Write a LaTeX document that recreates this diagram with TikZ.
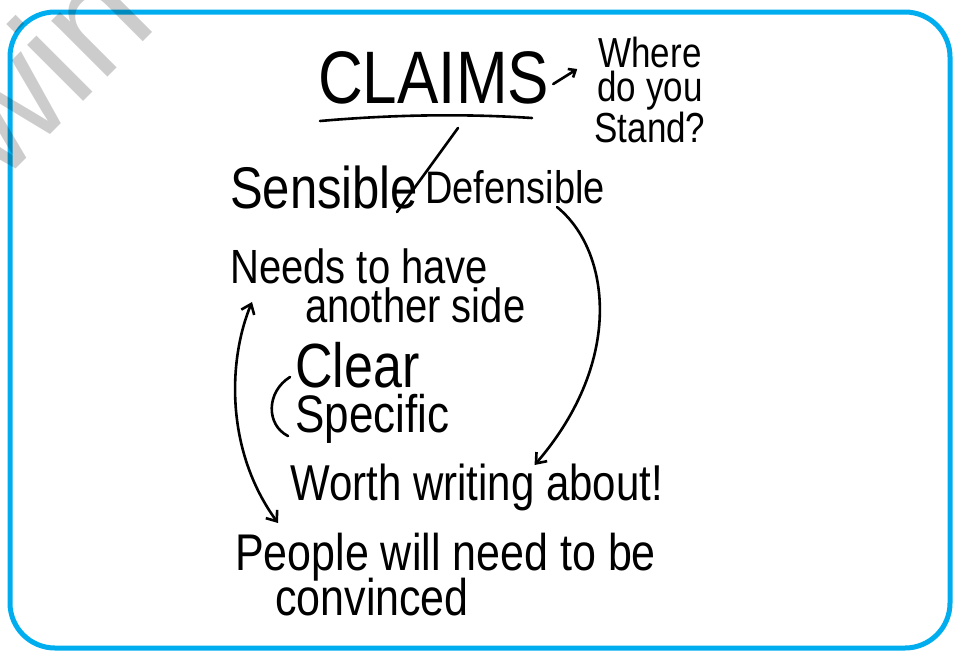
\documentclass[tikz,border=0pt]{standalone}
\usepackage{fontspec}
\setmainfont{Liberation Sans}
\usetikzlibrary{arrows.meta}
\definecolor{frame}{RGB}{0,174,239}
\newcommand{\hand}[1]{\fontsize{#1}{#1}\selectfont}
\begin{document}
\begin{tikzpicture}[x=1pt,y=-1pt,
  txt/.style={inner sep=0pt,anchor=base west,yscale=1.2},
  ink/.style={line width=2.6pt,line cap=round},
  barb/.tip={Straight Barb[length=9pt,width=14pt]},
  arr/.style={ink,-barb}]
\useasboundingbox (0,0) rectangle (955,651);
\draw[line width=5pt,frame,rounded corners=45pt] (10,12) rectangle (950,648);
\node[txt,font=\hand{62}] (claims) at (318,103) {CLAIMS};
\node[txt,anchor=north,align=center,font=\fontsize{35}{28.5}\selectfont] (stand) at (650,37) {Where\\do you\\Stand?};
\node[txt,font=\hand{49}] (sens) at (230,208) {Sensible};
\node[txt,anchor=base east,font=\hand{38}] (def) at (605,203) {Defensible};
\node[txt,font=\hand{40}] (needs) at (230,283) {Needs to have};
\node[txt,font=\hand{40}] (side) at (305,322) {another side};
\node[txt,font=\hand{52}] (clear) at (295,387) {Clear};
\node[txt,font=\hand{44}] (spec) at (295,432) {Specific};
\node[txt,font=\hand{42}] (worth) at (290,500) {Worth writing about!};
\node[txt,font=\hand{43}] (people) at (235,570) {People will need to be};
\node[txt,font=\hand{43}] (conv) at (275,615) {convinced};
% strokes
\draw[ink] (320,121) .. controls (400,114) and (470,114) .. (532,118);
\draw[ink] (458,128) -- (397,212);
\draw[ink] (290,377) .. controls (266,392) and (266,425) .. (288,436);
% arrows
\draw[ink,-{Straight Barb[length=6pt,width=10pt]}] ([shift={(4,-19)}]claims.base east) -- ([shift={(28,-34)}]claims.base east);
\draw[arr] ([shift={(-48,4)}]def.base east) .. controls (610,250) and (625,360) .. ([shift={(58,-35)}]worth.base);
\draw[arr,barb-barb] ([shift={(22,19)}]needs.base west) .. controls (228,360) and (225,450) .. ([shift={(43,-47)}]people.base west);
% watermark
\node[inner sep=0pt,anchor=base west,rotate=45,opacity=0.2,font=\hand{150}] (mark) at (0,185) {win};
\end{tikzpicture}
\end{document}
